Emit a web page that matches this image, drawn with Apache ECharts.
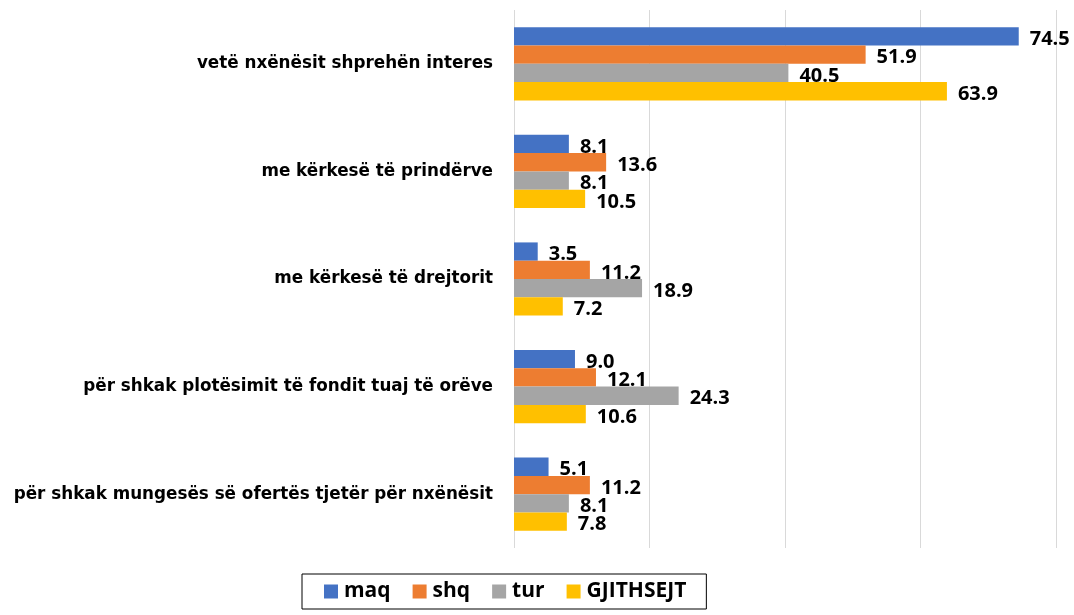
<!DOCTYPE html>
<html><head><meta charset="utf-8">
<script src="https://cdn.jsdelivr.net/npm/echarts@6/dist/echarts.min.js"></script>
<style>html,body{margin:0;padding:0;background:#fff}#c{width:1074px;height:615px}</style>
</head><body><div id="c"></div>
<script>
const categories = [
  "vetë nxënësit shprehën interes",
  "me kërkesë të prindërve",
  "me kërkesë të drejtorit",
  "për shkak plotësimit të fondit tuaj të orëve",
  "për shkak mungesës së ofertës tjetër për nxënësit"
];
const seriesNames = ["maq", "shq", "tur", "GJITHSEJT"];
const maq = [74.5, 8.1, 3.5, 9.0, 5.1];
const shq = [51.9, 13.6, 11.2, 12.1, 11.2];
const tur = [40.5, 8.1, 18.9, 24.3, 8.1];
const gjithsejt = [63.9, 10.5, 7.2, 10.6, 7.8];
const colors = ["#4472C4", "#ED7D31", "#A5A5A5", "#FFC000"];

const font = "'Open Sans', 'Liberation Sans', sans-serif";
const catFont = "'DejaVu Sans', sans-serif";
const data = [maq, shq, tur, gjithsejt];
const chart = echarts.init(document.getElementById('c'), null, {renderer: 'canvas'});
chart.setOption({
  animation: false,
  grid: {left: 514, right: 18, top: 10, bottom: 67, containLabel: false},
  legend: {
    data: seriesNames,
    left: 302, top: 574,
    padding: [7, 20, 7, 22],
    borderColor: '#000', borderWidth: 1,
    itemWidth: 14, itemHeight: 14, itemGap: 22,
    icon: 'rect',
    textStyle: {fontFamily: font, fontWeight: 'bold', fontSize: 21, color: '#000', padding: [0, 0, 0, 1]}
  },
  xAxis: {
    type: 'value', min: 0, max: 80, interval: 20,
    axisLabel: {show: false}, axisLine: {show: false}, axisTick: {show: false},
    splitLine: {show: true, lineStyle: {color: '#d9d9d9', width: 1}}
  },
  yAxis: {
    type: 'category', data: categories, inverse: true,
    axisLine: {show: false}, axisTick: {show: false},
    axisLabel: {margin: 21, fontFamily: catFont, fontWeight: 'bold', fontSize: 16.8, color: '#000'}
  },
  series: seriesNames.map((n, i) => ({
    name: n, type: 'bar', data: data[i],
    barGap: '0%', barCategoryGap: '32%',
    itemStyle: {color: colors[i]},
    label: {
      show: true, position: 'right', distance: 11, offset: [0, 3],
      formatter: p => p.value.toFixed(1),
      fontFamily: font, fontWeight: 'bold', fontSize: 20, color: '#000'
    }
  }))
});
</script></body></html>
